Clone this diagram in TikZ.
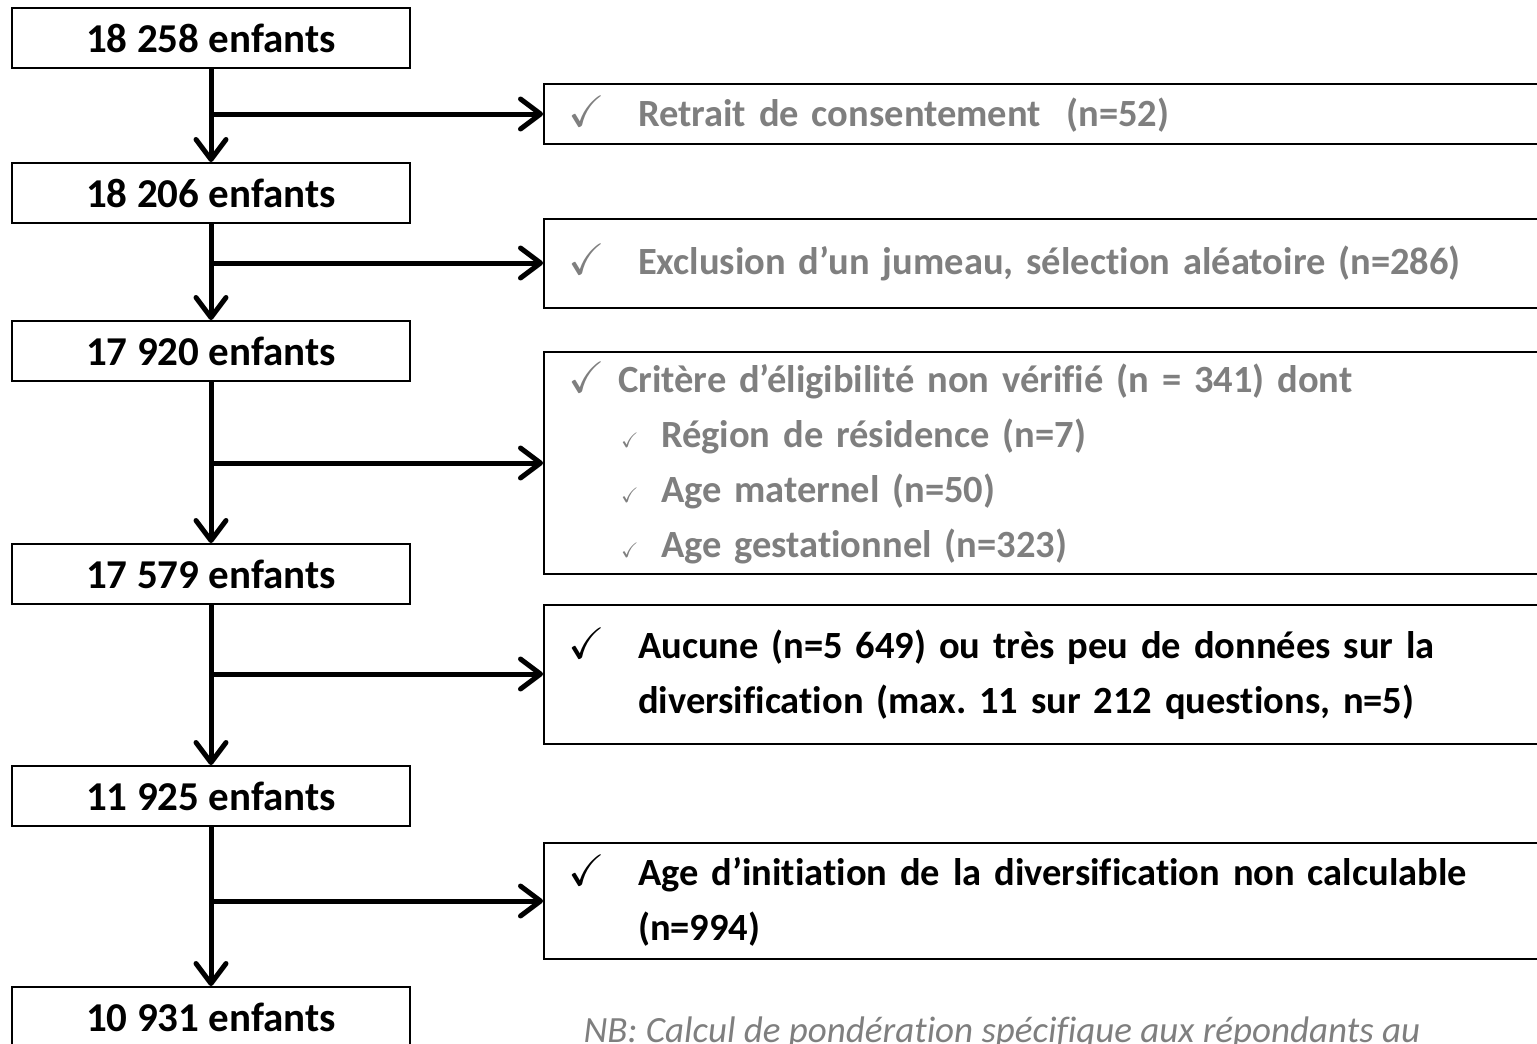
\documentclass[tikz,border=0pt]{standalone}
\usepackage{fontspec}
\setmainfont{Carlito}[Ligatures={TeX,NoCommon}]
\usepackage{amssymb}
\usetikzlibrary{arrows.meta}
\definecolor{exclgrey}{HTML}{7F7F7F}
\frenchspacing

% ticks in front of the exclusion lines
\newcommand{\tickmain}{\makebox[70pt][l]{\fontsize{44}{44}\selectfont$\checkmark$}}
\newcommand{\tickfirst}{\makebox[50pt][l]{\fontsize{44}{44}\selectfont$\checkmark$}}
\newcommand{\ticksub}{\hspace*{53pt}\makebox[40pt][l]{\fontsize{21}{21}\selectfont$\checkmark$}}

\begin{document}
\begin{tikzpicture}[x=1pt, y=-1pt,
  count/.style={draw, line width=2pt, minimum width=398pt, minimum height=60pt,
    inner sep=0pt, font=\bfseries\fontsize{41}{41}\selectfont},
  excl/.style={draw, line width=2pt, anchor=west, text width=962pt,
    inner xsep=24pt, inner ysep=0pt, align=left,
    font=\bfseries\fontsize{38.5}{55}\selectfont},
  flow/.style={line width=5pt, -{Straight Barb[length=20pt, width=30pt, round]}}]
  \clip (0,0) rectangle (1537,1044);
  \useasboundingbox (0,0) rectangle (1537,1044);

  % main column
  \node[count] (b1) at (211,38) {18 258 enfants};
  \node[count] (b2) at (211,193) {18 206 enfants};
  \node[count] (b3) at (211,351) {17 920 enfants};
  \node[count] (b4) at (211,574) {17 579 enfants};
  \node[count] (b5) at (211,796) {11 925 enfants};
  \node[count] (b6) at (211,1017) {10 931 enfants};

  % exclusions
  \node[excl, minimum height=60pt, text=exclgrey] (r1) at (543,114)
    {\tickmain Retrait de consentement\ \ (n=52)};
  \node[excl, minimum height=89pt, text=exclgrey] (r2) at (543,263)
    {\tickmain Exclusion d’un jumeau, sélection aléatoire (n=286)};
  \node[excl, minimum height=222pt, text=exclgrey] (r3) at (543,463)
    {\tickfirst Critère d’éligibilité non vérifié (n = 341) dont\\
     \ticksub Région de résidence (n=7)\\
     \ticksub Age maternel (n=50)\\
     \ticksub Age gestationnel (n=323)};
  \node[excl, minimum height=139pt] (r4) at (543,674)
    {\tickmain Aucune (n=5 649) ou très peu de données sur la\\
     \hspace*{70pt}diversification (max. 11 sur 212 questions, n=5)};
  \node[excl, minimum height=116pt] (r5) at (543,901)
    {\tickmain Age d’initiation de la diversification non calculable\\
     \hspace*{70pt}(n=994)};

  \node[anchor=base west, text=exclgrey, font=\itshape\fontsize{37}{37}\selectfont]
    (nb) at (580,1042) {NB: Calcul de pondération spécifique aux répondants au};

  % arrows
  \draw[flow] (b1) -- (b2);
  \draw[flow] (b2) -- (b3);
  \draw[flow] (b3) -- (b4);
  \draw[flow] (b4) -- (b5);
  \draw[flow] (b5) -- (b6);
  \draw[flow] (b1.south |- r1.west) -- (r1.west);
  \draw[flow] (b2.south |- r2.west) -- (r2.west);
  \draw[flow] (b3.south |- r3.west) -- (r3.west);
  \draw[flow] (b4.south |- r4.west) -- (r4.west);
  \draw[flow] (b5.south |- r5.west) -- (r5.west);
\end{tikzpicture}
\end{document}
